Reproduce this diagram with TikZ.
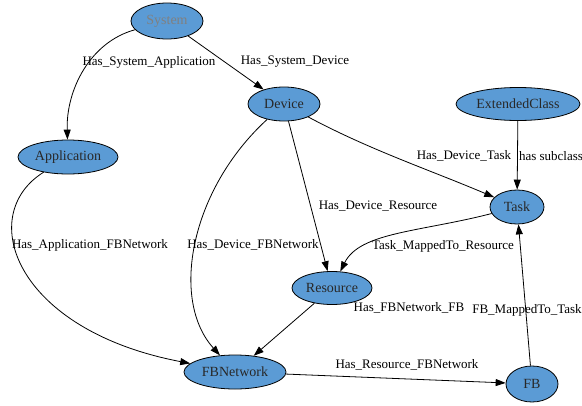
\documentclass[tikz,border=0pt]{standalone}
\usepackage{fontspec}
\setmainfont{Liberation Serif}
\usetikzlibrary{shapes.geometric,arrows.meta}
\definecolor{nodefill}{RGB}{91,155,213}
\definecolor{nodetext}{RGB}{40,40,40}
\begin{document}
\begin{tikzpicture}[x=1pt,y=-1pt,
  cls/.style={ellipse, draw=black, line width=0.8pt, fill=nodefill, inner sep=0pt,
    text=nodetext, font=\fontsize{14}{16}\selectfont},
  lbl/.style={font=\fontsize{13}{15}\selectfont, inner sep=1pt},
  rel/.style={draw=black, line width=0.8pt, -{Triangle[length=10pt,width=7pt]}}]
\useasboundingbox (0,0) rectangle (582,405);

% classes
\node[cls, minimum width=72pt, minimum height=36pt, text=gray] (sys) at (167,21) {System};
\node[cls, minimum width=72pt, minimum height=34pt] (dev) at (284,104) {Device};
\node[cls, minimum width=100pt, minimum height=34pt] (app) at (68,157) {Application};
\node[cls, minimum width=124pt, minimum height=33pt] (ext) at (518,104) {ExtendedClass};
\node[cls, minimum width=54pt, minimum height=34pt] (task) at (517,207) {Task};
\node[cls, minimum width=80pt, minimum height=33pt] (res) at (332,288) {Resource};
\node[cls, minimum width=102pt, minimum height=34pt] (fbn) at (235,372) {FBNetwork};
\node[cls, minimum width=52pt, minimum height=36pt] (fb) at (532,384) {FB};

% relations
\draw[rel] (sys) .. controls (90,42) and (66,90) .. (app);
\draw[rel] (sys) -- (dev);
\draw[rel] (dev) .. controls (370,150) and (430,170) .. (task);
\draw[rel] (dev) -- (res);
\draw[rel] (dev) .. controls (190,190) and (170,300) .. (fbn);
\draw[rel] (app) .. controls (-25,215) and (15,330) .. (fbn);
\draw[rel] (ext) -- (task);
\draw[rel] (task) .. controls (420,232) and (360,232) .. (res);
\draw[rel] (res) -- (fbn);
\draw[rel] (fbn) -- (fb);
\draw[rel] (fb) -- (task);

% relation labels
\node[lbl] (l1) at (149,62) {Has\_System\_Application};
\node[lbl] (l2) at (295,62) {Has\_System\_Device};
\node[lbl] (l3) at (464,156) {Has\_Device\_Task};
\node[lbl] (l4) at (551,156) {has subclass};
\node[lbl] (l5) at (378,206) {Has\_Device\_Resource};
\node[lbl] (l6) at (443,246) {Task\_MappedTo\_Resource};
\node[lbl] (l7) at (90,245) {Has\_Application\_FBNetwork};
\node[lbl] (l8) at (253,245) {Has\_Device\_FBNetwork};
\node[lbl] (l9) at (409,308) {Has\_FBNetwork\_FB};
\node[lbl] (l10) at (527,310) {FB\_MappedTo\_Task};
\node[lbl] (l11) at (407,365) {Has\_Resource\_FBNetwork};
\end{tikzpicture}
\end{document}
